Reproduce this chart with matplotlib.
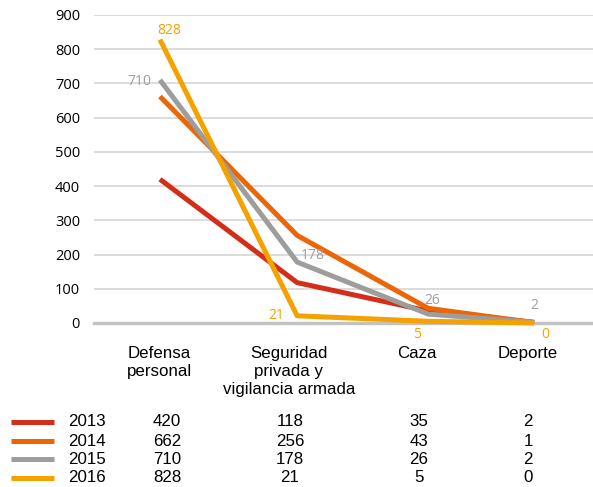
import matplotlib
matplotlib.use("Agg")
import matplotlib.pyplot as plt

categories = ["Defensa\npersonal", "Seguridad\nprivada y\nvigilancia armada", "Caza", "Deporte"]
years = ["2013", "2014", "2015", "2016"]
v2013 = [420, 118, 35, 2]
v2014 = [662, 256, 43, 1]
v2015 = [710, 178, 26, 2]
v2016 = [828, 21, 5, 0]
series = [v2013, v2014, v2015, v2016]
colors = ["#D42E1A", "#EC6608", "#9D9D9C", "#F5A100"]
yticks = [0, 100, 200, 300, 400, 500, 600, 700, 800, 900]

W, H = 593, 487
fig = plt.figure(figsize=(W / 100, H / 100), dpi=100)
ax = fig.add_axes([94 / W, 1 - 323 / H, 1 - 94 / W, (323 - 15) / H])

xpos = [0, 1.1, 2.15, 3.0]
ax.set_xlim(-0.529, 3.472)
ax.set_ylim(0, 900)

for y in yticks[1:]:
    ax.axhline(y, color="#D6D6D6", lw=1.2, zorder=0)
ax.axhline(0, color="#C2C2C2", lw=2.4, zorder=0, clip_on=False)

for vals, c in zip(series, colors):
    ax.plot(xpos, vals, color=c, lw=3.6, solid_capstyle="butt", clip_on=False, zorder=3)

lab_font = dict(family="Open Sans", fontsize=10, zorder=5)
# labels for 2015 (gray)
ax.text(xpos[0] - 0.07, v2015[0] - 5, "710", color="#9D9D9C", ha="right", va="center", **lab_font)
ax.text(xpos[1] + 0.03, v2015[1] + 20, "178", color="#9D9D9C", ha="left", va="center", **lab_font)
ax.text(xpos[2] - 0.03, v2015[2] + 18, "26", color="#9D9D9C", ha="left", va="bottom", **lab_font)
ax.text(xpos[3] + 0.0, v2015[3] + 28, "2", color="#9D9D9C", ha="center", va="bottom", **lab_font)
# labels for 2016 (yellow)
ax.text(xpos[0] - 0.02, v2016[0] + 6, "828", color="#F5A100", ha="left", va="bottom", **lab_font)
ax.text(xpos[1] - 0.1, v2016[1], "21", color="#F5A100", ha="right", va="center", **lab_font)
ax.text(xpos[2] - 0.09, v2016[2] - 18, "5", color="#F5A100", ha="center", va="top", **lab_font)
ax.text(xpos[3] + 0.06, v2016[3] - 12, "0", color="#F5A100", ha="left", va="top", **lab_font)

ax.set_xticks([])
ax.set_yticks(yticks)
ax.set_yticklabels([str(t) for t in yticks], family="Open Sans", fontsize=10.5)
ax.tick_params(axis="y", length=0, pad=10)
for s in ax.spines.values():
    s.set_visible(False)

# category labels and table
col_px = [159, 289, 417, 528]
for cx, cat in zip(col_px, categories):
    fig.text(cx / W, 1 - 346 / H, cat, ha="center", va="top", fontsize=12.2,
             family="Liberation Sans", linespacing=1.25)

row_px = [422, 441, 459, 478]
num_px = [167, 290, 419, 528]
for ry, yr, vals, c in zip(row_px, years, series, colors):
    yf = 1 - ry / H
    fig.add_artist(plt.Line2D([11 / W, 54 / W], [yf, yf], color=c, lw=3.6,
                              transform=fig.transFigure, solid_capstyle="butt"))
    fig.text(68 / W, yf, yr, ha="left", va="center", fontsize=12.2, family="Liberation Sans")
    for nx, v in zip(num_px, vals):
        fig.text(nx / W, yf, str(v), ha="center", va="center", fontsize=12.2, family="Liberation Sans")

fig.savefig("out.png", dpi=100)
